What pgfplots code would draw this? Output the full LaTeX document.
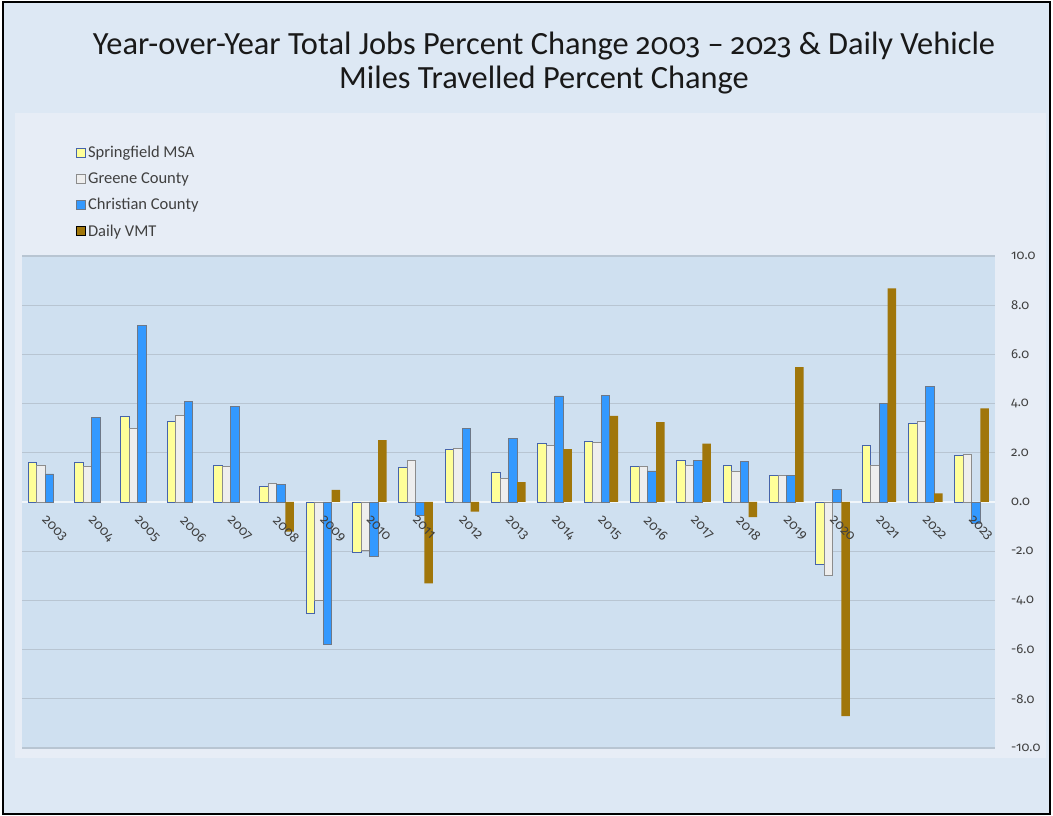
\documentclass[border=0pt]{standalone}
\usepackage{fontspec}
\setmainfont{Carlito}
\newfontfamily\numfont{Fira Sans}[Numbers=OldStyle]
\usepackage{pgfplots}
\pgfplotsset{compat=1.18}
\definecolor{bgout}{RGB}{221,232,244}
\definecolor{bgpanel}{RGB}{231,237,246}
\definecolor{plotbg}{RGB}{207,224,240}
\definecolor{gridc}{RGB}{184,197,210}
\definecolor{msafill}{RGB}{255,255,153}
\definecolor{msaedge}{RGB}{70,100,170}
\definecolor{grefill}{RGB}{238,238,238}
\definecolor{greedge}{RGB}{140,140,140}
\definecolor{chrfill}{RGB}{51,153,255}
\definecolor{chredge}{RGB}{110,120,135}
\definecolor{vmt}{RGB}{160,118,10}
\definecolor{txt}{RGB}{64,64,64}
\pgfplotsset{sqleg/.style={legend image code/.code={\draw[##1] (0pt,-4.5pt) rectangle (9pt,4.5pt);}},
  common/.style={at={(22pt,68pt)}, anchor=south west, scale only axis,
    width=973pt, height=492pt, xmin=-0.5, xmax=20.5, ymin=-10, ymax=10,
    axis line style={draw=none}, major tick length=0pt}}
\begin{document}
\begin{tikzpicture}[x=1pt,y=1pt]
\useasboundingbox (0,0) rectangle (1053,816);
\fill[white] (0,0) rectangle (1053,816);
\fill[bgout] (3,2) rectangle (1050,814);
\fill[bgpanel] (15,58) rectangle (1046,703);
\draw[black, line width=2.5] (3,2) rectangle (1050,814);
\node[anchor=north, align=center, inner sep=0pt, text=black!90,
  font=\fontsize{32.4}{34}\selectfont] at (544,784)
  {Year-over-Year Total Jobs Percent Change {\numfont\fontsize{29.5}{34}\selectfont 2003} – {\numfont\fontsize{29.5}{34}\selectfont 2023} \& Daily Vehicle\\Miles Travelled Percent Change};
\begin{axis}[common,
  ybar=0pt, bar width=8.5pt,
  axis background/.style={fill=plotbg},
  ytick={-10,-8,...,10},
  ymajorgrids, grid style={gridc, line width=1.2pt},
  extra y ticks={0}, extra y tick labels={},
  extra y tick style={grid style={white!70!plotbg, line width=1.5pt}},
  ytick pos=right,
  /pgf/number format/assume math mode=true,
  yticklabel style={anchor=west, xshift=16pt, inner sep=0pt, text=txt,
    font=\numfont\fontsize{13}{13}\selectfont,
    /pgf/number format/fixed, /pgf/number format/fixed zerofill,
    /pgf/number format/precision=1},
  xtick=\empty,
  legend style={at={(0.0555,1.228)}, anchor=north west, draw=none, fill=none,
    font=\fontsize{16.5}{16.5}\selectfont, text=txt, row sep=9.5pt,
    inner sep=0pt, /tikz/every even column/.style={column sep=6pt}},
  legend cell align=left,
]
\addplot[sqleg, fill=msafill, draw=msaedge, line width=0.9pt] coordinates {
(0,1.62) (1,1.62) (2,3.48) (3,3.29) (4,1.48) (5,0.64) (6,-4.55) (7,-2.06)
(8,1.41) (9,2.14) (10,1.22) (11,2.37) (12,2.45) (13,1.44) (14,1.68) (15,1.49)
(16,1.06) (17,-2.55) (18,2.28) (19,3.21) (20,1.89)};
\addplot[sqleg, fill=grefill, draw=greedge, line width=0.9pt] coordinates {
(0,1.48) (1,1.46) (2,3.0) (3,3.52) (4,1.46) (5,0.76) (6,-4.02) (7,-1.95)
(8,1.68) (9,2.16) (10,0.96) (11,2.3) (12,2.43) (13,1.46) (14,1.49) (15,1.25)
(16,1.08) (17,-2.98) (18,1.49) (19,3.26) (20,1.95)};
\addplot[sqleg, fill=chrfill, draw=chredge, line width=0.9pt] coordinates {
(0,1.14) (1,3.44) (2,7.18) (3,4.08) (4,3.89) (5,0.72) (6,-5.8) (7,-2.2)
(8,-0.53) (9,3.0) (10,2.57) (11,4.31) (12,4.34) (13,1.26) (14,1.7) (15,1.63)
(16,1.09) (17,0.5) (18,4.02) (19,4.69) (20,-0.87)};
\addplot[sqleg, fill=vmt, draw=none] coordinates {
(5,-1.2) (6,0.49) (7,2.52) (8,-3.31) (9,-0.39) (10,0.81) (11,2.15) (12,3.5)
(13,3.25) (14,2.37) (15,-0.62) (16,5.48) (17,-8.7) (18,8.68) (19,0.35) (20,3.81)};
\legend{Springfield MSA, Greene County, Christian County, Daily VMT}
\end{axis}
\begin{axis}[common,
  ytick=\empty,
  xtick={0,...,20},
  xticklabels={2003,2004,2005,2006,2007,2008,2009,2010,2011,2012,2013,2014,2015,2016,2017,2018,2019,2020,2021,2022,2023},
  xticklabel style={yshift=233pt, xshift=2pt, rotate=-45, anchor=north west,
    inner sep=0pt, text=txt, font=\numfont\fontsize{13.5}{13.5}\selectfont},
]
\end{axis}
\end{tikzpicture}
\end{document}
